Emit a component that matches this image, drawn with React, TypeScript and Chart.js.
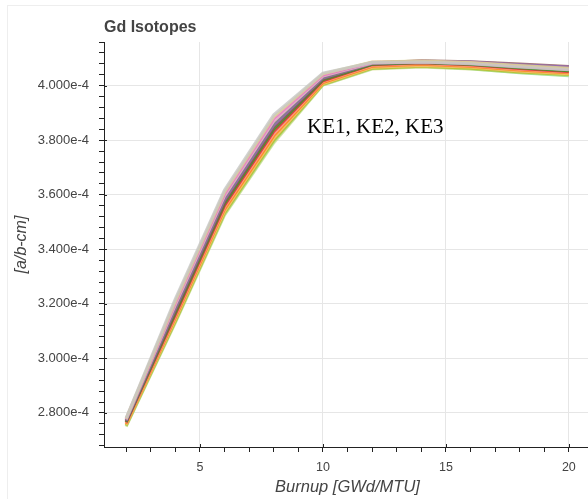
import React, { useEffect, useRef } from "react";
import { Chart, registerables } from "chart.js";

Chart.register(...registerables);

// ---------- data ----------
const burnup = [2, 4, 6, 8, 10, 12, 14, 16, 18, 20];

const seriesNames = [
  "KE1-a", "KE1-b", "KE1-c", "KE1-d", "KE1-e",
  "KE2-a", "KE2-b", "KE2-c", "KE2-d", "KE2-e",
  "KE3-a", "KE3-b", "KE3-c", "KE3-d", "KE3-e",
];

const seriesColors = [
  "#c7c7c7", "#dbdb8d", "#e377c2", "#f7b6d2", "#7f7f7f",
  "#9467bd", "#8c564b", "#2ca02c", "#d62728", "#ff9896",
  "#ff7f0e", "#ffbb78", "#bcbd22", "#98df8a", "#dbdb8d",
];

const s01 = [2.781e-4, 3.218e-4, 3.617e-4, 3.893e-4, 4.046e-4, 4.085e-4, 4.087e-4, 4.080e-4, 4.068e-4, 4.058e-4];
const s02 = [2.779e-4, 3.210e-4, 3.610e-4, 3.886e-4, 4.043e-4, 4.087e-4, 4.090e-4, 4.085e-4, 4.074e-4, 4.064e-4];
const s03 = [2.778e-4, 3.203e-4, 3.603e-4, 3.878e-4, 4.039e-4, 4.086e-4, 4.089e-4, 4.084e-4, 4.072e-4, 4.061e-4];
const s04 = [2.776e-4, 3.196e-4, 3.596e-4, 3.870e-4, 4.035e-4, 4.083e-4, 4.087e-4, 4.082e-4, 4.070e-4, 4.059e-4];
const s05 = [2.774e-4, 3.189e-4, 3.589e-4, 3.862e-4, 4.031e-4, 4.081e-4, 4.086e-4, 4.081e-4, 4.069e-4, 4.060e-4];
const s06 = [2.772e-4, 3.182e-4, 3.582e-4, 3.855e-4, 4.028e-4, 4.082e-4, 4.089e-4, 4.087e-4, 4.077e-4, 4.068e-4];
const s07 = [2.770e-4, 3.175e-4, 3.575e-4, 3.848e-4, 4.025e-4, 4.083e-4, 4.091e-4, 4.088e-4, 4.079e-4, 4.070e-4];
const s08 = [2.767e-4, 3.168e-4, 3.568e-4, 3.840e-4, 4.021e-4, 4.078e-4, 4.085e-4, 4.078e-4, 4.066e-4, 4.055e-4];
const s09 = [2.765e-4, 3.161e-4, 3.561e-4, 3.832e-4, 4.018e-4, 4.077e-4, 4.084e-4, 4.077e-4, 4.063e-4, 4.052e-4];
const s10 = [2.763e-4, 3.155e-4, 3.554e-4, 3.824e-4, 4.015e-4, 4.074e-4, 4.081e-4, 4.074e-4, 4.060e-4, 4.050e-4];
const s11 = [2.760e-4, 3.149e-4, 3.547e-4, 3.816e-4, 4.011e-4, 4.071e-4, 4.078e-4, 4.071e-4, 4.057e-4, 4.047e-4];
const s12 = [2.757e-4, 3.143e-4, 3.540e-4, 3.808e-4, 4.008e-4, 4.067e-4, 4.074e-4, 4.068e-4, 4.054e-4, 4.044e-4];
const s13 = [2.754e-4, 3.137e-4, 3.533e-4, 3.800e-4, 4.005e-4, 4.064e-4, 4.071e-4, 4.064e-4, 4.050e-4, 4.041e-4];
const s14 = [2.752e-4, 3.134e-4, 3.529e-4, 3.795e-4, 4.003e-4, 4.063e-4, 4.070e-4, 4.062e-4, 4.047e-4, 4.036e-4];
const s15 = [2.750e-4, 3.130e-4, 3.525e-4, 3.790e-4, 4.002e-4, 4.061e-4, 4.068e-4, 4.061e-4, 4.048e-4, 4.038e-4];

const seriesValues = [s01, s02, s03, s04, s05, s06, s07, s08, s09, s10, s11, s12, s13, s14, s15];

const xMajorTicks = [5, 10, 15, 20];
const yMajorTicks = [2.8e-4, 3.0e-4, 3.2e-4, 3.4e-4, 3.6e-4, 3.8e-4, 4.0e-4];

const titleText = "Gd Isotopes";
const xTitle = "Burnup [GWd/MTU]";
const yTitle = "[a/b-cm]";
const annotationText = "KE1, KE2, KE3";

// ---------- axis ranges ----------
const X_MIN = 1.1;
const X_MAX = 20.9;
const Y_MIN = 2.675e-4;
const Y_MAX = 4.16e-4;
const Y_MAJOR_STEP = 0.2e-4;
const Y_MINOR_STEP = 0.04e-4;

const FONT = '"Liberation Sans", Arial, Helvetica, sans-serif';

function buildXTicks() {
  const out: number[] = [];
  for (let v = Math.ceil(X_MIN); v <= Math.floor(X_MAX); v++) out.push(v);
  return out;
}
function buildYTicks() {
  const out: number[] = [];
  const base = yMajorTicks[0];
  for (let i = -10; i <= 60; i++) {
    const v = base + i * Y_MINOR_STEP;
    if (v >= Y_MIN - 1e-12 && v <= Y_MAX + 1e-12) out.push(v);
  }
  return out;
}
const isMajorX = (v: number) => xMajorTicks.some((m) => Math.abs(m - v) < 1e-9);
const isMajorY = (v: number) => {
  const r = (v - yMajorTicks[0]) / Y_MAJOR_STEP;
  return Math.abs(r - Math.round(r)) < 1e-6;
};

function withAlpha(hex: string, a: number) {
  const r = parseInt(hex.slice(1, 3), 16);
  const g = parseInt(hex.slice(3, 5), 16);
  const b = parseInt(hex.slice(5, 7), 16);
  return `rgba(${r},${g},${b},${a})`;
}

const decorPlugin = {
  id: "decor",
  afterDraw(chart: any) {
    const { ctx, chartArea, scales } = chart;
    ctx.save();
    ctx.strokeStyle = "#222";
    ctx.lineWidth = 1;
    for (const v of xMajorTicks) {
      const px = Math.round(scales.x.getPixelForValue(v)) + 0.5;
      ctx.beginPath();
      ctx.moveTo(px, chartArea.bottom);
      ctx.lineTo(px, chartArea.bottom - 3);
      ctx.stroke();
    }
    for (const v of yMajorTicks) {
      const py = Math.round(scales.y.getPixelForValue(v)) + 0.5;
      ctx.beginPath();
      ctx.moveTo(chartArea.left, py);
      ctx.lineTo(chartArea.left + 3, py);
      ctx.stroke();
    }
    ctx.font = `bold 16px ${FONT}`;
    ctx.fillStyle = "#444";
    ctx.textAlign = "left";
    ctx.textBaseline = "alphabetic";
    ctx.fillText(titleText, chartArea.left, 32);
    ctx.restore();
  },
};

export default function App() {
  const canvasRef = useRef<HTMLCanvasElement | null>(null);

  useEffect(() => {
    if (!canvasRef.current) return;
    const xTicks = buildXTicks();
    const yTicks = buildYTicks();
    const chart = new Chart(canvasRef.current, {
      type: "line",
      data: {
        datasets: seriesValues.map((vals, i) => ({
          label: seriesNames[i],
          data: burnup.map((x, j) => ({ x, y: vals[j] })),
          borderColor: withAlpha(seriesColors[i], 0.8),
          backgroundColor: seriesColors[i],
          borderWidth: 3,
          pointRadius: 0,
          fill: false,
          tension: 0,
        })),
      },
      options: {
        animation: false,
        responsive: false,
        devicePixelRatio: 1,
        layout: { padding: { top: 42, left: 0, right: 0, bottom: 0 } },
        plugins: {
          legend: { display: false },
          tooltip: { enabled: false },
          title: { display: false },
        },
        scales: {
          x: {
            type: "linear",
            min: X_MIN,
            max: X_MAX,
            afterBuildTicks: (s: any) => {
              s.ticks = xTicks.map((v) => ({ value: v }));
            },
            afterFit: (s: any) => {
              s.height = 52;
            },
            ticks: {
              autoSkip: false,
              maxRotation: 0,
              padding: 8,
              color: "#444",
              font: { family: FONT, size: 12.5 },
              callback: (v: any) => (isMajorX(Number(v)) ? String(v) : ""),
            },
            grid: {
              color: (c: any) => (c.tick && isMajorX(c.tick.value) ? "#e6e6e6" : "rgba(0,0,0,0)"),
              tickColor: "#222",
              tickLength: 5,
            },
            border: { display: true, color: "#222", width: 1 },
            title: {
              display: true,
              text: xTitle,
              color: "#444",
              font: { family: FONT, size: 16.5, style: "italic" },
              padding: { top: 0, bottom: 2 },
            },
          },
          y: {
            type: "linear",
            min: Y_MIN,
            max: Y_MAX,
            afterBuildTicks: (s: any) => {
              s.ticks = yTicks.map((v) => ({ value: v }));
            },
            afterFit: (s: any) => {
              s.width = 104;
            },
            ticks: {
              autoSkip: false,
              padding: 10,
              color: "#444",
              font: { family: FONT, size: 13 },
              callback: (v: any) => (isMajorY(Number(v)) ? Number(v).toExponential(3) : ""),
            },
            grid: {
              color: (c: any) => (c.tick && isMajorY(c.tick.value) ? "#e6e6e6" : "rgba(0,0,0,0)"),
              tickColor: "#222",
              tickLength: 5,
            },
            border: { display: true, color: "#222", width: 1 },
            title: {
              display: true,
              text: yTitle,
              color: "#444",
              font: { family: FONT, size: 16, style: "italic" },
              padding: { top: 12, bottom: 0 },
            },
          },
        },
      } as any,
      plugins: [decorPlugin],
    });
    return () => chart.destroy();
  }, []);

  return (
    <div
      style={{
        position: "fixed",
        left: 0,
        top: 0,
        width: 588,
        height: 499,
        overflow: "hidden",
        background: "#fff",
      }}
    >
      <div
        style={{
          position: "absolute",
          left: 7,
          top: 5,
          width: 700,
          height: 700,
          border: "1px solid #eeeeee",
          boxSizing: "border-box",
        }}
      />
      <canvas
        ref={canvasRef}
        width={591}
        height={499}
        style={{ position: "absolute", left: 0, top: 0, width: 591, height: 499 }}
      />
      <div
        style={{
          position: "absolute",
          left: 307,
          top: 116,
          fontFamily: '"Liberation Serif", "Times New Roman", serif',
          fontSize: 21,
          lineHeight: "21px",
          color: "#000",
          whiteSpace: "nowrap",
        }}
      >
        {annotationText}
      </div>
    </div>
  );
}
